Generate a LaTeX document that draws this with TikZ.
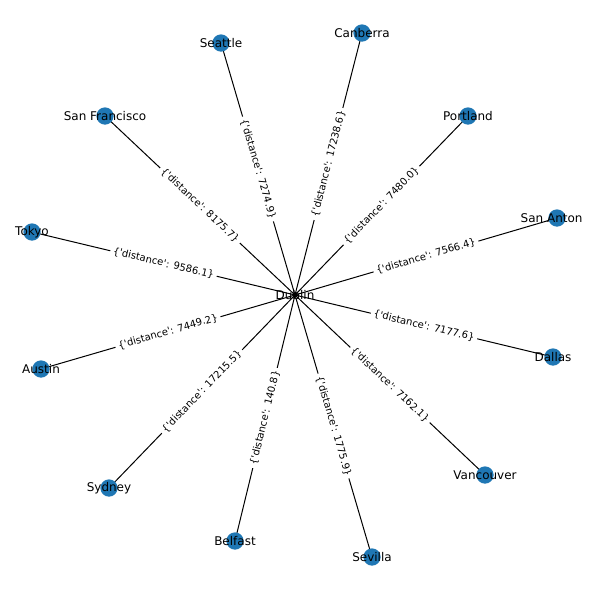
\documentclass[tikz,border=0pt]{standalone}
\usepackage{fontspec}
\newfontfamily\dvs{DejaVu Sans}
\definecolor{nxblue}{HTML}{1F77B4}
\begin{document}
\begin{tikzpicture}[x=1pt,y=-1pt,
  edge/.style={line width=1pt, black},
  dot/.style={circle, fill=nxblue, minimum size=17.3pt, inner sep=0pt},
  lbl/.style={font=\dvs\fontsize{12}{14}\selectfont, inner sep=0pt, text=black},
  elbl/.style={font=\dvs\fontsize{10}{12}\selectfont, fill=white, rounded corners=3pt, inner sep=3pt, sloped, midway}]
\useasboundingbox (0,0) rectangle (590,590);
\begin{scope}
\clip (8,8) rectangle (582,582);
% positions
\coordinate (dub) at (295,295);
\coordinate (sea) at (221,43);
\coordinate (can) at (362,33);
\coordinate (por) at (468,116);
\coordinate (san) at (557,218);
\coordinate (dal) at (553,357);
\coordinate (van) at (485,475);
\coordinate (sev) at (372,557);
\coordinate (bel) at (235,541);
\coordinate (syd) at (109,488);
\coordinate (aus) at (41,369);
\coordinate (tok) at (32,232);
\coordinate (sfr) at (105,116);
% Dublin label
\node[lbl] (dublab) at (dub) {Dublin};
% edges
\draw[edge] (dub) -- (sea) node[elbl] {\{'distance': 7274.9\}};
\draw[edge] (dub) -- (can) node[elbl] {\{'distance': 17238.6\}};
\draw[edge] (dub) -- (por) node[elbl] {\{'distance': 7480.0\}};
\draw[edge] (dub) -- (san) node[elbl] {\{'distance': 7566.4\}};
\draw[edge] (dub) -- (dal) node[elbl] {\{'distance': 7177.6\}};
\draw[edge] (dub) -- (van) node[elbl] {\{'distance': 7162.1\}};
\draw[edge] (dub) -- (sev) node[elbl] {\{'distance': 1775.9\}};
\draw[edge] (dub) -- (bel) node[elbl] {\{'distance': 140.8\}};
\draw[edge] (dub) -- (syd) node[elbl] {\{'distance': 17215.5\}};
\draw[edge] (dub) -- (aus) node[elbl] {\{'distance': 7449.2\}};
\draw[edge] (dub) -- (tok) node[elbl] {\{'distance': 9586.1\}};
\draw[edge] (dub) -- (sfr) node[elbl] {\{'distance': 8175.7\}};
% nodes
\foreach \c/\t in {sea/Seattle, can/Canberra, por/Portland, san/San Antonio, dal/Dallas, van/Vancouver, sev/Sevilla, bel/Belfast, syd/Sydney, aus/Austin, tok/Tokyo, sfr/San Francisco}{
  \node[dot] (\c-dot) at (\c) {};
  \node[lbl] (\c-lab) at (\c) {\t};
}
\end{scope}
\end{tikzpicture}
\end{document}
